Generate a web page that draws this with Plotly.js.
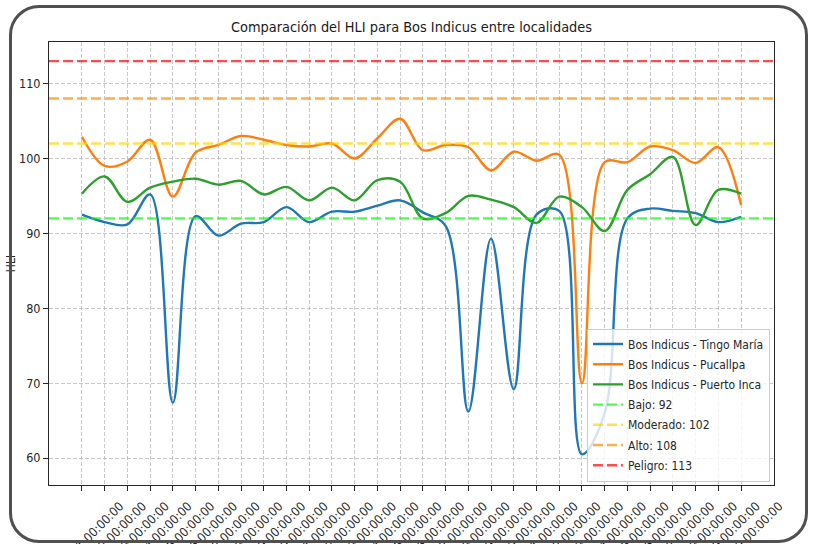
<!DOCTYPE html>
<html><head><meta charset="utf-8">
<script src="https://cdn.plot.ly/plotly-3.0.1.min.js"></script>
<style>
html,body{margin:0;padding:0;background:#fff;width:814px;height:544px;overflow:hidden;}
#wrap{position:relative;width:814px;height:544px;}
#chart{position:absolute;left:0;top:0;width:814px;height:544px;}
#frame{position:absolute;left:8.5px;top:5px;width:799.5px;height:537.5px;box-sizing:border-box;border:3px solid #505050;border-radius:30px;pointer-events:none;}
</style></head>
<body><div id="wrap"><div id="chart"></div><div id="frame"></div></div>
<script>
const dates = [
 '2023-11-01 00:00:00','2023-11-02 00:00:00','2023-11-03 00:00:00','2023-11-04 00:00:00','2023-11-05 00:00:00',
 '2023-11-06 00:00:00','2023-11-07 00:00:00','2023-11-08 00:00:00','2023-11-09 00:00:00','2023-11-10 00:00:00',
 '2023-11-11 00:00:00','2023-11-12 00:00:00','2023-11-13 00:00:00','2023-11-14 00:00:00','2023-11-15 00:00:00',
 '2023-11-16 00:00:00','2023-11-17 00:00:00','2023-11-18 00:00:00','2023-11-19 00:00:00','2023-11-20 00:00:00',
 '2023-11-21 00:00:00','2023-11-22 00:00:00','2023-11-23 00:00:00','2023-11-24 00:00:00','2023-11-25 00:00:00',
 '2023-11-26 00:00:00','2023-11-27 00:00:00','2023-11-28 00:00:00','2023-11-29 00:00:00','2023-11-30 00:00:00'
];
const tingoMaria = [92.5, 91.5, 91.2, 95.2, 67.4, 92.3, 89.7, 91.3, 91.5, 93.5, 91.5, 92.9, 92.9, 93.7, 94.4,
                    92.8, 91.0, 66.2, 89.3, 69.2, 92.5, 93.0, 60.5, 66.0, 92.0, 93.3, 93.0, 92.7, 91.5, 92.2];
const pucallpa   = [102.9, 99.0, 99.6, 102.5, 94.9, 100.8, 101.8, 103.0, 102.5, 101.8, 101.6, 102.0, 100.0, 102.7, 105.3,
                    101.1, 101.8, 101.5, 98.4, 100.9, 99.7, 100.5, 70.0, 99.5, 99.5, 101.6, 101.1, 99.4, 101.5, 93.8];
const puertoInca = [95.3, 97.6, 94.2, 96.1, 96.9, 97.3, 96.5, 97.0, 95.2, 96.2, 94.4, 96.1, 94.4, 97.1, 96.9,
                    92.0, 92.7, 95.0, 94.5, 93.5, 91.4, 94.9, 93.5, 90.3, 95.8, 97.9, 100.2, 91.1, 95.8, 95.3];
const seriesNames = ['Bos Indicus - Tingo María', 'Bos Indicus - Pucallpa', 'Bos Indicus - Puerto Inca'];
const seriesColors = ['#1f77b4', '#ff7f0e', '#2ca02c'];
const thresholdNames = ['Bajo', 'Moderado', 'Alto', 'Peligro'];
const thresholdValues = [92, 102, 108, 113];
const thresholdColors = ['rgba(0,255,0,0.7)', 'rgba(255,215,0,0.7)', 'rgba(255,140,0,0.7)', 'rgba(255,0,0,0.7)'];

const FONT = "'DejaVu Sans Condensed', 'Liberation Sans Narrow', 'DejaVu Sans', sans-serif";
const idx = dates.map((d, i) => i);
const seriesValues = [tingoMaria, pucallpa, puertoInca];

const traces = seriesValues.map((vals, k) => ({
  type: 'scatter', mode: 'lines', x: idx, y: vals, name: seriesNames[k],
  line: {color: seriesColors[k], width: 2.4, shape: 'spline', smoothing: 1.0},
  legendgroup: 'g' + k, legendrank: k + 1, hoverinfo: 'skip'
}));

const shapes = thresholdValues.map((v, k) => ({
  type: 'line', xref: 'paper', x0: 0, x1: 1, yref: 'y', y0: v, y1: v,
  line: {color: thresholdColors[k], width: 2.4, dash: '10px,4px'},
  layer: 'above', showlegend: true, name: thresholdNames[k] + ': ' + v,
  legendgroup: 't' + k, legendrank: 10 + k
}));

const layout = {
  width: 814, height: 544,
  margin: {l: 49, r: 40, t: 42, b: 59, pad: 0},
  paper_bgcolor: '#ffffff', plot_bgcolor: '#ffffff',
  font: {family: FONT, color: '#262626', size: 12.5},
  title: {text: 'Comparación del HLI para Bos Indicus entre localidades', font: {family: FONT, size: 14.4, color: '#1a1a1a'},
          xref: 'paper', x: 0.5, xanchor: 'center', yref: 'container', y: 1 - 27/544, yanchor: 'middle'},
  xaxis: {range: [-1.45, 30.45], tickmode: 'array', tickvals: idx, ticktext: dates, tickangle: -45,
          ticklabelshift: 38, ticklabelstandoff: 3,
          showgrid: true, gridcolor: 'rgba(176,176,176,0.7)', griddash: '4px,2px', gridwidth: 1,
          ticks: 'outside', ticklen: 5, tickcolor: '#262626', tickwidth: 1,
          showline: true, linecolor: '#262626', linewidth: 1, mirror: true, zeroline: false, automargin: false,
          tickfont: {family: FONT, size: 12.5, color: '#262626'}},
  yaxis: {range: [56.4, 115.55], tickvals: [60, 70, 80, 90, 100, 110],
          title: {text: 'HLI', standoff: 0, font: {family: FONT, size: 12, color: '#262626'}},
          showgrid: true, gridcolor: 'rgba(176,176,176,0.7)', griddash: '4px,2px', gridwidth: 1,
          ticks: 'outside', ticklen: 5, tickcolor: '#262626', tickwidth: 1,
          showline: true, linecolor: '#262626', linewidth: 1, mirror: true, zeroline: false, automargin: false,
          tickfont: {family: FONT, size: 12.5, color: '#262626'}},
  legend: {x: 1 - 4/725, xanchor: 'right', y: 3.5/443, yanchor: 'bottom',
           bgcolor: 'rgba(255,255,255,0.8)', bordercolor: '#cccccc', borderwidth: 1,
           font: {family: FONT, size: 12, color: '#262626'}, tracegroupgap: 1.2, itemclick: false},
  shapes: shapes,
  showlegend: true
};
Plotly.newPlot('chart', traces, layout, {displayModeBar: false, staticPlot: true});
</script></body></html>
